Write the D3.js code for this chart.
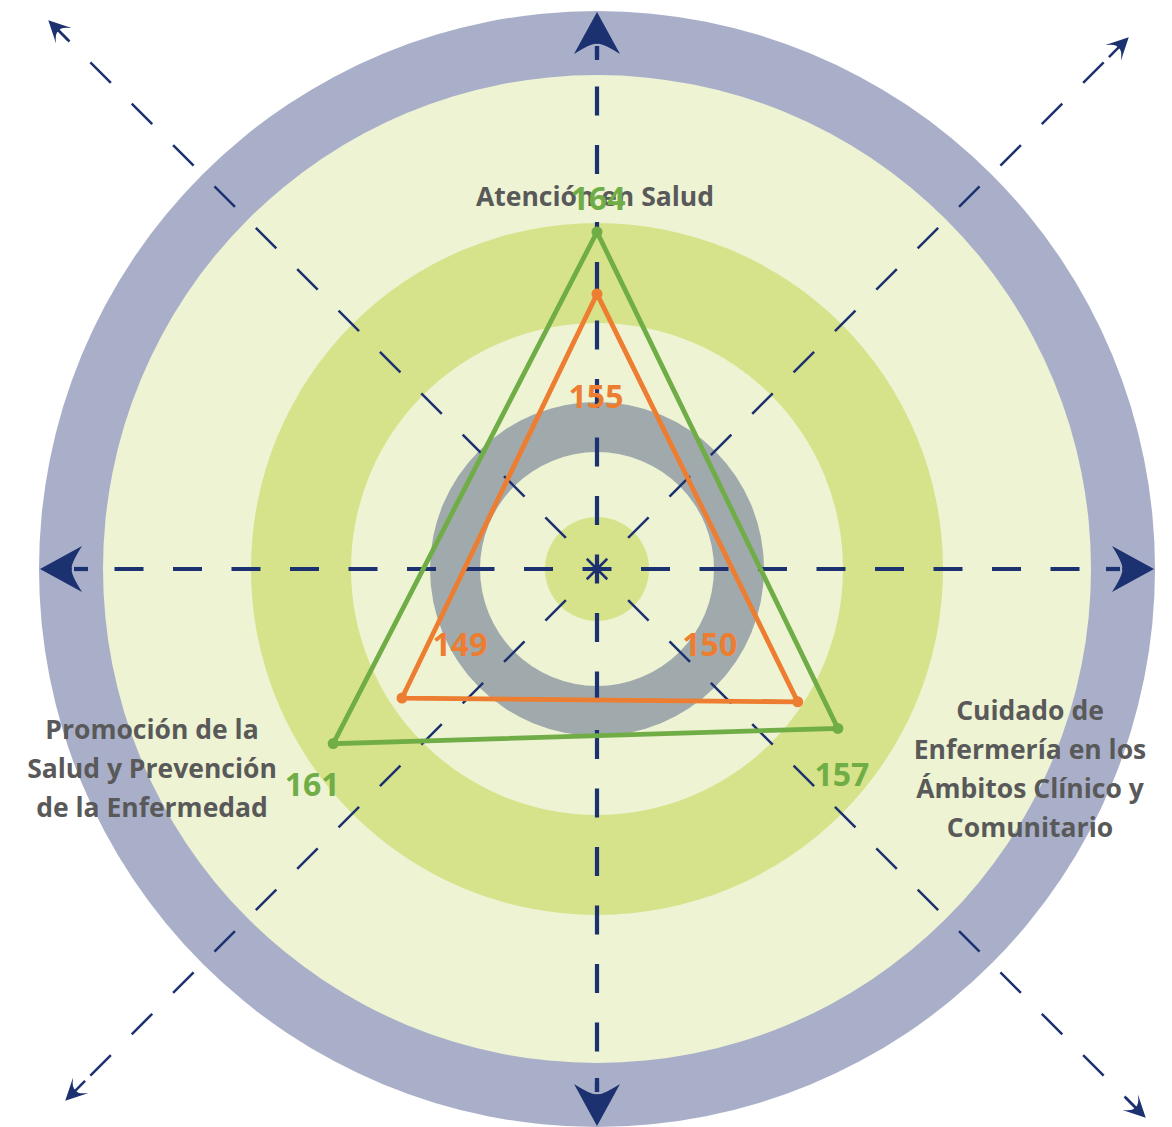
<!DOCTYPE html>
<html>
<head>
<meta charset="utf-8">
<script src="https://cdn.jsdelivr.net/npm/d3@7"></script>
<style>
  html, body { margin: 0; padding: 0; background: #ffffff; }
  svg { display: block; }
</style>
</head>
<body>
<div id="chart"></div>
<script>
// categories (one per axis) and the two series
var categories = ["Atención en Salud",
                  "Cuidado de Enfermería en los Ámbitos Clínico y Comunitario",
                  "Promoción de la Salud y Prevención de la Enfermedad"];
var categoryLines = [["Atención en Salud"],
                     ["Cuidado de", "Enfermería en los", "Ámbitos Clínico y", "Comunitario"],
                     ["Promoción de la", "Salud y Prevención", "de la Enfermedad"]];
var greenValues = [164, 157, 161];
var orangeValues = [155, 150, 149];

var width = 1172, height = 1127;
var cx = 597, cy = 569;

var navy = "#1c3170";
var green = "#70ad47";
var orange = "#ed7d31";
var textGray = "#595959";
var fontFam = "'Open Sans', Lato, sans-serif";

var svg = d3.select("#chart").append("svg")
    .attr("width", width)
    .attr("height", height);

// background rings, outermost first
var rings = [
    {r: 558, fill: "#a9afc9"},
    {r: 494, fill: "#edf3d3"},
    {r: 346, fill: "#d6e38a"},
    {r: 246, fill: "#edf3d3"},
    {r: 167, fill: "#a0aaad"},
    {r: 117, fill: "#edf3d3"},
    {r: 52,  fill: "#d6e38a"}
];
svg.selectAll("circle.ring").data(rings).enter().append("circle")
    .attr("class", "ring")
    .attr("cx", cx).attr("cy", cy)
    .attr("r", function(d) { return d.r; })
    .attr("fill", function(d) { return d.fill; });

//dashed axes with arrows
var axesDirs = [
    {deg: 0,   len: 557, big: true},
    {deg: 90,  len: 557, big: true},
    {deg: 180, len: 557, big: true},
    {deg: 270, len: 557, big: true},
    {deg: 45,  len: 752, big: false},
    {deg: 135, len: 776, big: false},
    {deg: 225, len: 752, big: false},
    {deg: 315, len: 776, big: false}
];

function polar(deg, r) {
    var a = deg * Math.PI / 180;
    return [cx + r * Math.sin(a), cy - r * Math.cos(a)];
}

var axisG = svg.append("g");
axesDirs.forEach(function(d) {
    var headLen = d.big ? 42 : 22;
    var end = polar(d.deg, d.len - headLen + 8);
    axisG.append("line")
        .attr("x1", cx).attr("y1", cy)
        .attr("x2", end[0]).attr("y2", end[1])
        .attr("stroke", navy)
        .attr("stroke-width", d.big ? 4.2 : 2.5)
        .attr("stroke-dasharray", "29,29.5")
        .attr("stroke-dashoffset", 14.5);
    // short solid stem into the arrowhead
    var s0 = polar(d.deg, d.len - headLen - 6);
    axisG.append("line")
        .attr("x1", s0[0]).attr("y1", s0[1])
        .attr("x2", end[0]).attr("y2", end[1])
        .attr("stroke", navy)
        .attr("stroke-width", d.big ? 4.2 : 2.5);
    var tip = polar(d.deg, d.len);
    var hw = d.big ? 23 : 11;
    var notch = d.big ? 32 : 15;
    var pathStr = "M0,0 L" + (-headLen) + "," + (-hw) +
                  " Q" + (-notch + 2) + ",-4 " + (-notch) + ",0" +
                  " Q" + (-notch + 2) + ",4 " + (-headLen) + "," + hw + " Z";
    axisG.append("path")
        .attr("d", pathStr)
        .attr("fill", navy)
        .attr("transform", "translate(" + tip[0] + "," + tip[1] + ") rotate(" + (d.deg - 90) + ")");
});

// background box behind the top category label
svg.append("rect")
    .attr("x", 470).attr("y", 174)
    .attr("width", 252).attr("height", 48)
    .attr("fill", "#edf3d3");

// radial scale and axis angles for the three categories
var rScale = d3.scaleLinear().domain([115, 164]).range([0, 337]);
var axisAngles = [0, 123.5, 236.5];

function pointsFor(values) {
    return values.map(function(v, i) { return polar(axisAngles[i], rScale(v)); });
}

var series = [
    {values: orangeValues, color: orange, offsets: [[-1, 114], [-88, -46], [58, -42]]},
    {values: greenValues,  color: green,  offsets: [[1, -22], [4, 58], [-21, 52]]}
];

//category labels
var catPos = [
    {x: 595, y: 206},
    {x: 1030, y: 720},
    {x: 152, y: 739}
];
categoryLines.forEach(function(lines, i) {
    var t = svg.append("text")
        .attr("x", catPos[i].x)
        .attr("y", catPos[i].y)
        .attr("text-anchor", "middle")
        .style("font-family", fontFam)
        .style("font-weight", "bold")
        .style("font-size", "26.5px")
        .style("fill", textGray);
    lines.forEach(function(line, j) {
        t.append("tspan")
            .attr("x", catPos[i].x)
            .attr("dy", j == 0 ? 0 : 39)
            .text(line);
    });
});

var line = d3.line().curve(d3.curveLinearClosed);

series.forEach(function(s) {
    var pts = pointsFor(s.values);
    svg.append("path")
        .attr("d", line(pts))
        .attr("fill", "none")
        .attr("stroke", s.color)
        .attr("stroke-width", 4.8)
        .attr("stroke-linejoin", "miter");
    svg.selectAll(null).data(pts).enter().append("circle")
        .attr("cx", function(d) { return d[0]; })
        .attr("cy", function(d) { return d[1]; })
        .attr("r", 5.5)
        .attr("fill", s.color);
    svg.selectAll(null).data(s.values).enter().append("text")
        .attr("x", function(d, i) { return pts[i][0] + s.offsets[i][0]; })
        .attr("y", function(d, i) { return pts[i][1] + s.offsets[i][1]; })
        .attr("text-anchor", "middle")
        .style("font-family", fontFam)
        .style("font-weight", "bold")
        .style("font-size", "32px")
        .style("fill", s.color)
        .text(function(d) { return d; });
});
</script>
</body>
</html>
